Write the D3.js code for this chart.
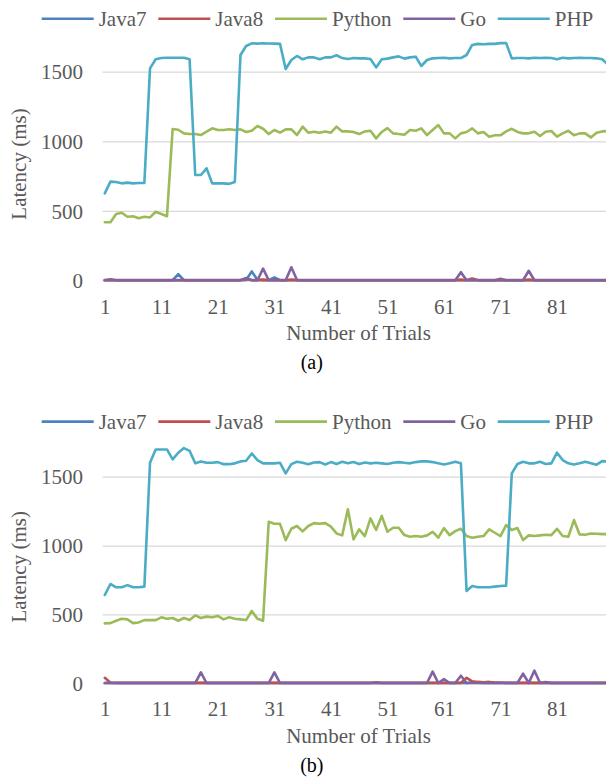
<!DOCTYPE html>
<html>
<head>
<meta charset="utf-8">
<script src="https://cdn.jsdelivr.net/npm/d3@7"></script>
<style>
  html, body { margin: 0; padding: 0; background: #fff; }
  svg { display: block; }
  svg text { font-family: "Liberation Serif", "Times New Roman", serif; }
</style>
</head>
<body>
<svg id="chart" width="606" height="778"></svg>
<script>
// ---- data ----
const seriesNames = ["Java7", "Java8", "Python", "Go", "PHP"];
const yTicks = [0, 500, 1000, 1500];
const xTicks = [1, 11, 21, 31, 41, 51, 61, 71, 81];
const trials = d3.range(1, 91);

// (a)
const java7A = [2,2,2,2,2,2,2,2,2,2, 2,2,2,45,2,2,2,2,2,2, 2,2,2,2,2,4,65,5,2,2, 22,2,2,2,2,2,2,2,2,2,
  2,2,2,2,2,2,2,2,2,2, 2,2,2,2,2,2,2,2,2,2, 2,2,2,2,2,2,2,2,2,2, 2,2,2,2,2,2,2,2,2,2, 2,2,2,2,2,2,2,2,2,2];
const java8A = [3,8,3,3,3,3,3,3,3,3, 3,3,3,3,3,3,3,3,3,3, 3,3,3,3,3,10,3,3,6,3, 3,3,3,6,3,3,3,3,3,3,
  3,3,3,3,3,3,3,3,3,3, 3,3,3,3,3,3,3,3,3,3, 3,3,3,6,3,14,3,3,3,3, 3,3,3,3,3,6,3,3,3,3, 3,3,3,3,3,3,3,3,3,3];
const pythonA = [418,418,478,487,458,462,447,458, 453,494,478,462,1088,1083,1057,1052,
  1052,1045,1069,1093,1081,1081,1086,1081, 1086,1067,1076,1110,1090,1052,1081,1062,
  1086,1086,1045,1105,1062,1069,1062,1071, 1062,1105,1071,1071,1067,1052,1071,1076,
  1021,1067,1095,1057,1052,1047,1081,1076, 1093,1045,1081,1117,1057,1057,1021,1057,
  1067,1093,1057,1067,1033,1043,1043,1071, 1090,1067,1057,1057,1069,1038,1069,1074,
  1033,1057,1076,1043,1057,1057,1028,1062, 1071,1074];
const goA = [2,2,2,2,2,2,2,2,2,2, 2,2,2,2,2,2,2,2,2,2, 2,2,2,2,2,18,2,2,85,2, 2,2,2,95,4,2,2,2,2,2,
  2,2,2,2,2,2,2,2,2,2, 2,2,2,2,2,2,2,2,2,2, 2,2,2,60,2,2,2,2,2,2, 12,2,2,2,2,70,2,2,2,2, 2,2,2,2,2,2,2,2,2,2];
const phpA = [626,710,708,698,703,698,700,700, 1524,1589,1598,1600,1600,1600,1600,1589,
  758,758,806,698,698,698,694,708, 1620,1685,1704,1702,1704,1703,1702,1700,
  1519,1584,1613,1589,1603,1603,1589,1603, 1603,1618,1598,1591,1598,1596,1596,1591,
  1531,1589,1594,1603,1610,1594,1603,1608, 1541,1584,1596,1598,1600,1596,1598,1598,
  1620,1692,1700,1697,1700,1700,1705,1705, 1596,1598,1598,1596,1600,1598,1600,1598,
  1589,1600,1596,1598,1600,1598,1598,1596, 1589,1553];

// (b)
const java7B = [2,2,2,2,2,2,2,2,2,2, 2,2,2,2,2,2,2,2,2,2, 2,2,2,2,2,2,2,2,2,2, 2,2,2,2,2,2,2,2,2,2,
  2,2,2,2,2,2,2,2,8,2, 2,2,2,2,2,2,2,2,2,2, 2,2,2,2,2,6,5,2,2,2, 2,2,2,2,2,2,2,2,2,2, 2,2,2,2,2,2,2,2,2,2];
const java8B = [40,4,3,3,3,3,3,3,3,3, 3,3,3,3,3,3,3,3,3,3, 3,3,3,3,3,3,3,3,3,3, 3,3,3,3,3,3,3,3,3,3,
  3,3,3,3,3,3,3,3,3,3, 3,3,3,3,3,3,3,3,3,3, 3,3,3,3,40,14,10,8,10,6, 6,3,3,3,3,3,3,3,3,3, 3,3,3,3,3,3,3,3,3,3];
const pythonB = [435,437,454,469,464,437,442,459, 459,459,479,469,474,454,474,459,
  493,474,484,479,489,464,479,469, 464,459,525,469,454,1173,1158,1158,
  1040,1122,1142,1103,1142,1163,1158,1163, 1137,1088,1074,1263,1045,1118,1069,1197,
  1113,1216,1100,1129,1129,1076,1064,1069, 1064,1074,1100,1057,1127,1076,1105,1122,
  1069,1057,1064,1069,1118,1093,1069,1149, 1113,1127,1040,1074,1069,1074,1079,1076,
  1122,1069,1064,1185,1081,1079,1088,1086, 1083,1083];
const goB = [2,2,2,2,2,2,2,2,2,2, 2,2,2,2,2,2,2,80,2,2, 2,2,2,2,2,2,2,2,2,2, 80,2,2,2,2,2,2,2,2,2,
  2,2,2,2,2,2,2,2,2,2, 2,2,2,2,2,2,2,2,85,2, 30,2,2,55,2,2,2,2,2,2, 2,2,2,2,70,2,92,2,10,2, 2,2,2,2,2,2,2,2,2,2];
const phpB = [641,721,697,697,713,697,697,702, 1601,1698,1698,1698,1626,1674,1708,1688,
  1597,1611,1601,1601,1606,1591,1591,1597, 1611,1616,1669,1620,1597,1597,1597,1601,
  1524,1591,1608,1601,1591,1603,1606,1589, 1606,1592,1608,1597,1606,1592,1603,1597,
  1601,1597,1592,1601,1606,1601,1597,1606, 1611,1611,1606,1597,1589,1597,1608,1597,
  670,706,697,697,697,702,706,709, 1524,1592,1608,1597,1597,1608,1592,1597,
  1674,1621,1597,1589,1597,1608,1597,1587, 1613,1610];

// ---- styling ----
const colors = {
  Java7: "#4F81BD", Java8: "#C0504D", Python: "#9BBB59", Go: "#8064A2", PHP: "#4BACC6"
};
const FONT = "Liberation Serif";
const GREY_TEXT = "#595959";
const GRID = "#D9D9D9";

const svg = d3.select("#chart");
const W = 606;
const plotLeft = 102.5;

const x = d3.scaleLinear().domain([1, 81]).range([104.8, 557]);

function drawPanel(cfg) {
  const g = svg.append("g");
  const y = d3.scaleLinear().domain([0, 1500]).range([cfg.zeroY, cfg.topY]);

  // gridlines + y tick labels
  const yAxis = d3.axisLeft(y).tickValues(yTicks).tickFormat(d3.format("d"))
    .tickSizeInner(-(W - plotLeft)).tickSizeOuter(0).tickPadding(19.5);
  const ya = g.append("g").attr("transform", `translate(${plotLeft},0)`).call(yAxis)
    .attr("font-family", FONT).attr("font-size", 21);
  ya.select(".domain").remove();
  ya.selectAll(".tick line").attr("stroke", GRID).attr("stroke-width", 1.3);
  ya.selectAll(".tick text").attr("fill", GREY_TEXT).attr("dy", "0.34em");

  // x tick labels
  const xAxis = d3.axisBottom(x).tickValues(xTicks).tickSize(0).tickFormat(d3.format("d"));
  const xa = g.append("g").attr("transform", `translate(0,${cfg.zeroY})`).call(xAxis)
    .attr("font-family", FONT).attr("font-size", 21);
  xa.select(".domain").remove();
  xa.selectAll(".tick text").attr("fill", GREY_TEXT)
    .attr("dy", null).attr("y", cfg.tickBase - cfg.zeroY);

  // series lines
  const line = d3.line().x((d, i) => x(trials[i])).y(d => y(d));
  cfg.series.forEach(s => {
    g.append("path")
      .datum(s.values)
      .attr("d", line)
      .attr("fill", "none")
      .attr("stroke", colors[s.name])
      .attr("stroke-width", 2.6)
      .attr("stroke-linejoin", "round")
      .attr("stroke-linecap", "round");
  });

  // legend
  const lg = g.append("g").attr("font-family", FONT).attr("font-size", 21);
  let lx = 41.7;
  seriesNames.forEach(name => {
    lg.append("line")
      .attr("x1", lx).attr("x2", lx + 52)
      .attr("y1", cfg.legendLine).attr("y2", cfg.legendLine)
      .attr("stroke", colors[name]).attr("stroke-width", 2.6);
    const t = lg.append("text")
      .attr("x", lx + 57).attr("y", cfg.legendBase)
      .attr("fill", GREY_TEXT)
      .text(name);
    lx += 57 + t.node().getComputedTextLength() + 11.8;
  });

  // axis titles
  g.append("text")
    .attr("transform", `translate(26,${cfg.yTitleY}) rotate(-90)`)
    .attr("text-anchor", "middle")
    .attr("font-family", FONT).attr("font-size", 21).attr("fill", GREY_TEXT)
    .text("Latency (ms)");
  g.append("text")
    .attr("x", 358.5).attr("y", cfg.xTitleBase)
    .attr("text-anchor", "middle")
    .attr("font-family", FONT).attr("font-size", 21).attr("fill", GREY_TEXT)
    .text("Number of Trials");

  // panel caption
  g.append("text")
    .attr("x", 311.8).attr("y", cfg.captionBase)
    .attr("text-anchor", "middle")
    .attr("font-family", FONT).attr("font-size", 20).attr("fill", "#000")
    .text(cfg.caption);
}

drawPanel({
  zeroY: 280.5, topY: 71.7,
  legendLine: 18.8, legendBase: 26,
  tickBase: 313.5, xTitleBase: 340, captionBase: 369, yTitleY: 164,
  caption: "(a)",
  series: [
    { name: "Java7", values: java7A },
    { name: "Java8", values: java8A },
    { name: "Python", values: pythonA },
    { name: "Go", values: goA },
    { name: "PHP", values: phpA }
  ]
});

drawPanel({
  zeroY: 683.3, topY: 476.7,
  legendLine: 421.6, legendBase: 428.8,
  tickBase: 716.3, xTitleBase: 742.8, captionBase: 771.8, yTitleY: 566.8,
  caption: "(b)",
  series: [
    { name: "Java7", values: java7B },
    { name: "Java8", values: java8B },
    { name: "Python", values: pythonB },
    { name: "Go", values: goB },
    { name: "PHP", values: phpB }
  ]
});
</script>
</body>
</html>
